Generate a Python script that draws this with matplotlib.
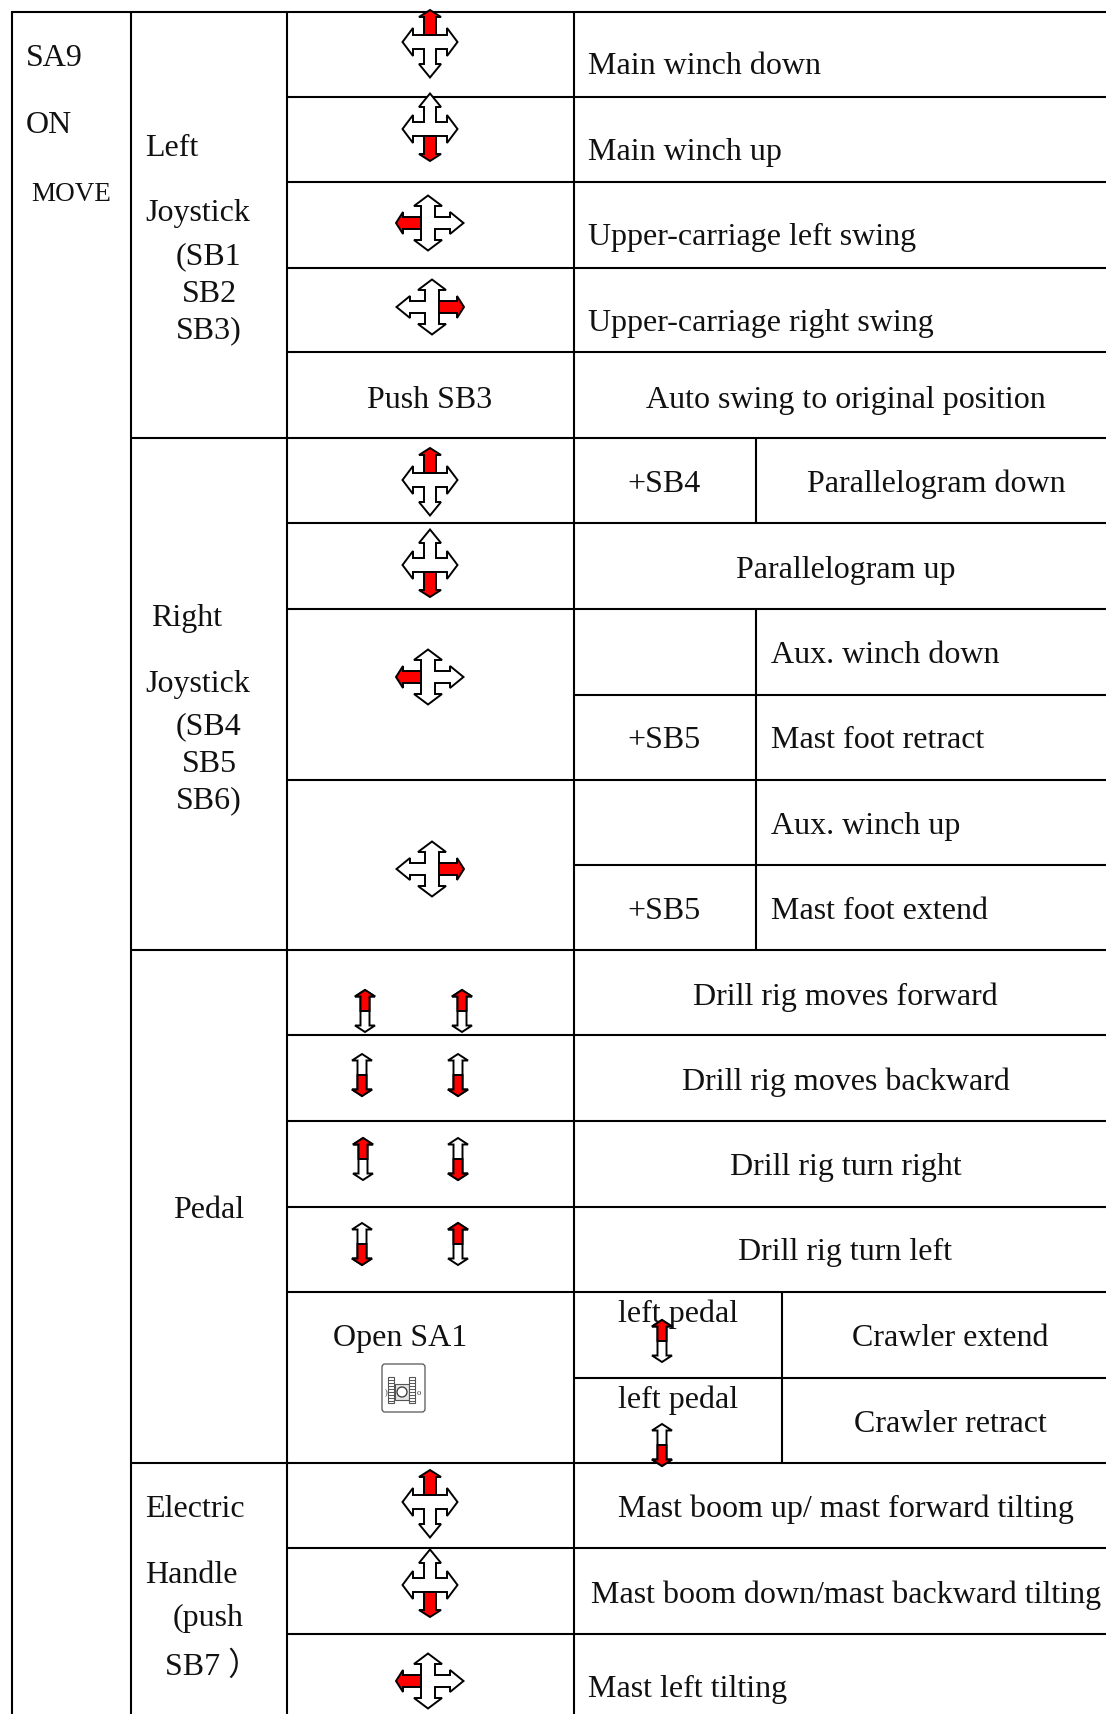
import numpy as np
import matplotlib
matplotlib.use("Agg")
import matplotlib.pyplot as plt
from matplotlib.patches import Polygon, Rectangle, FancyBboxPatch, Circle

plt.rcParams["font.family"] = ["Liberation Serif", "Noto Sans CJK SC", "DejaVu Sans"]

# table text
labels = ["SA9", "ON", "Left", "Joystick", "(SB1", "SB2", "SB3)",
          "Right", "Joystick", "(SB4", "SB5", "SB6)",
          "Electric", "Handle", "(push", "SB7 \uff09",
          "Main winch down", "Main winch up", "Upper-carriage left swing", "Upper-carriage right swing",
          "Aux. winch down", "Mast foot retract", "Aux. winch up", "Mast foot extend", "Mast left tilting"]
label_x = [26, 26, 145, 145, 176, 182, 176,
           151, 145, 176, 182, 176,
           145, 145, 173, 165,
           588, 588, 588, 588,
           771, 771, 771, 771, 588]
label_y = [66, 133, 156, 221, 264, 302, 338,
           626, 692, 734, 772, 808,
           1517, 1583, 1626, 1675,
           74, 160, 245, 331,
           663, 748, 834, 919, 1697]

center_labels = ["Push SB3", "Auto swing to original position", "+SB4", "Parallelogram down", "Parallelogram up",
                 "+SB5", "+SB5", "Pedal", "Drill rig moves forward", "Drill rig moves backward",
                 "Drill rig turn right", "Drill rig turn left", "Open SA1", "left pedal", "left pedal",
                 "Crawler extend", "Crawler retract", "Mast boom up/ mast forward tilting",
                 "Mast boom down/mast backward tilting"]
center_x = [430, 846, 664, 936, 846,
            664, 664, 209, 845, 846,
            846, 845, 400, 678, 678,
            950, 950, 846, 846]
center_y = [408, 408, 492, 492, 578,
            748, 919, 1218, 1005, 1090,
            1175, 1260, 1346, 1322, 1408,
            1346, 1432, 1517, 1603]

# table rules, (y, x start) and (x, y start, y end)
h_y = [13, 98, 183, 269, 353, 439, 524, 610, 696, 781, 866, 951, 1036, 1122, 1208, 1293, 1379, 1464, 1549, 1635]
h_start = [12, 287, 287, 287, 287, 131, 287, 287, 574, 287, 574, 131, 287, 287, 287, 287, 574, 131, 287, 287]
v_x = [12, 131, 287, 574, 756, 756, 782]
v_top = [12, 12, 12, 12, 439, 610, 1293]
v_bot = [1715, 1715, 1715, 1715, 524, 951, 1464]

# joystick icons: centre x, centre y, which arm is red
cross_x = [430, 430, 428, 432, 430, 430, 428, 432, 430, 430, 428]
cross_y = [43, 130, 224, 308, 481, 566, 678, 870, 1503, 1586, 1682]
cross_dir = ["up", "down", "left", "right", "up", "down", "left", "right", "up", "down", "left"]

# pedal icons: centre x, centre y, red half
pedal_x = [365, 462, 362, 458, 363, 458, 362, 458, 662, 662]
pedal_y = [1012, 1012, 1076, 1076, 1160, 1160, 1245, 1245, 1342, 1446]
pedal_dir = ["up", "up", "down", "down", "up", "down", "down", "up", "up", "down"]

fig = plt.figure(figsize=(11.06, 17.15), dpi=100)
ax = fig.add_axes([0, 0, 1, 1])
ax.set_xlim(0, 1106)
ax.set_ylim(1715, 0)
ax.axis("off")

LW = 1.5
RULE = "#000000"

for y, x0 in zip(h_y, h_start):
    ax.plot([x0, 1106], [y, y], color=RULE, lw=LW, solid_capstyle="butt", zorder=1)
for x, y0, y1 in zip(v_x, v_top, v_bot):
    ax.plot([x, x], [y0, y1], color=RULE, lw=LW, solid_capstyle="butt", zorder=1)

for s, x, y in zip(labels, label_x, label_y):
    ax.text(x, y, s, fontsize=23, ha="left", va="baseline", color="#111111", zorder=2)
for s, x, y in zip(center_labels, center_x, center_y):
    ax.text(x, y, s, fontsize=23, ha="center", va="baseline", color="#111111", zorder=2)
ax.text(31, 201, "MOVE", fontsize=19.5, ha="left", va="baseline", color="#111111", zorder=2)

# four way arrow without its top arm, the red arm goes in that place. offsets in pixels
cross_body = np.array([[6, -7], [17, -7], [17, -14], [27.5, 0], [17, 14], [17, 7], [6, 7], [6, 22], [11, 22],
                       [0, 35.5], [-11, 22], [-6, 22], [-6, 7], [-17, 7], [-17, 14], [-27.5, 0], [-17, -14],
                       [-17, -7], [-6, -7]], dtype=float)
red_arm = np.array([[0, -32], [11, -25], [6, -25], [6, -7], [-6, -7], [-6, -25], [-11, -25]], dtype=float)
pedal_shape = np.array([[0, -21], [10, -14.5], [4.5, -14.5], [4.5, 14.5], [10, 14.5], [0, 21], [-10, 14.5],
                        [-4.5, 14.5], [-4.5, -14.5], [-10, -14.5]], dtype=float)
pedal_red = np.array([[0, -21], [10, -14.5], [4.5, -14.5], [4.5, 0], [-4.5, 0], [-4.5, -14.5], [-10, -14.5]],
                     dtype=float)

turns = {"up": 0, "right": 90, "down": 180, "left": 270}


def turned(pts, direction):
    a = np.deg2rad(turns[direction])
    rot = np.array([[np.cos(a), -np.sin(a)], [np.sin(a), np.cos(a)]])
    return pts @ rot.T


for x, y, d in zip(cross_x, cross_y, cross_dir):
    ax.add_patch(Polygon(turned(cross_body, d) + [x, y], closed=True, fc="white", ec="black", lw=1.4, zorder=3))
    ax.add_patch(Polygon(turned(red_arm, d) + [x, y], closed=True, fc="#ff0000", ec="black", lw=1.4, zorder=4))

for x, y, d in zip(pedal_x, pedal_y, pedal_dir):
    ax.add_patch(Polygon(pedal_shape + [x, y], closed=True, fc="white", ec="black", lw=1.4, zorder=3))
    ax.add_patch(Polygon(turned(pedal_red, d) + [x, y], closed=True, fc="#ff0000", ec="black", lw=1.4, zorder=4))

# SA1 crawler icon
GREY = "#555555"
ax.add_patch(FancyBboxPatch((382, 1365), 43, 48, boxstyle="round,pad=0,rounding_size=3", fc="white", ec=GREY, lw=0.9, zorder=3))
ax.add_patch(Rectangle((395, 1385), 14, 16, fc="#e4e4e4", ec=GREY, lw=0.8, zorder=4))
ax.add_patch(Circle((402, 1393), 5, fc="white", ec="#333333", lw=0.9, zorder=5))
for tx in (388, 409):
    ax.add_patch(Rectangle((tx, 1378), 6, 26, fc="white", ec=GREY, lw=0.8, zorder=4))
    for ty in np.arange(1381, 1404, 3):
        ax.plot([tx, tx + 6], [ty, ty], color=GREY, lw=0.7, zorder=5)
ax.text(386, 1393, ")", fontsize=6, color="#333333", ha="center", va="center", zorder=4)
ax.text(419, 1393, "o", fontsize=6, color="#333333", ha="center", va="center", zorder=4)

fig.savefig("out.png", dpi=100, facecolor="white")
